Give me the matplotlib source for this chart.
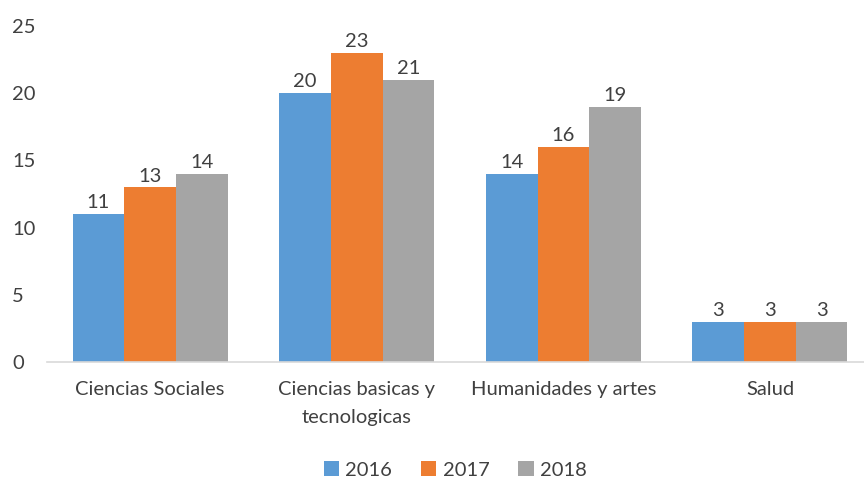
import numpy as np
import matplotlib.pyplot as plt

plt.rcParams['font.family'] = ['Lato', 'DejaVu Sans']

# Data
categorias = ['Ciencias Sociales', 'Ciencias basicas y\ntecnologicas',
              'Humanidades y artes', 'Salud']
anios = ['2016', '2017', '2018']
v2016 = [11, 20, 14, 3]
v2017 = [13, 23, 16, 3]
v2018 = [14, 21, 19, 3]
colores = ['#5B9BD5', '#ED7D31', '#A5A5A5']

fig = plt.figure(figsize=(8.64, 4.8), dpi=100)
ax = fig.add_axes([46.75 / 864, 1 - 362 / 480, 1 - 46.75 / 864, 336 / 480])

x = np.arange(len(categorias))
w = 0.25
for i, (vals, lab) in enumerate(zip([v2016, v2017, v2018], anios)):
    bars = ax.bar(x + (i - 1) * w, vals, w, color=colores[i], label=lab)
    ax.bar_label(bars, padding=2, fontsize=14.5, color='#404040')

ax.set_xlim(-0.5, 3.455)
ax.set_ylim(0, 25)
ax.set_yticks([0, 5, 10, 15, 20, 25])
ax.set_xticks(x)
ax.set_xticklabels(categorias, fontsize=14.5, color='#404040', linespacing=1.75)
ax.tick_params(axis='y', length=0, labelsize=14.5, labelcolor='#404040', pad=25)
for t in ax.get_yticklabels():
    t.set_horizontalalignment('left')
ax.tick_params(axis='x', length=0, pad=14)

for s in ['top', 'right', 'left']:
    ax.spines[s].set_visible(False)
ax.spines['bottom'].set_color('#D9D9D9')
ax.spines['bottom'].set_linewidth(1.2)

fig.legend(loc='lower center', bbox_to_anchor=(0.527, -0.035), ncol=3, frameon=False,
           fontsize=14.5, handlelength=0.75, handleheight=0.75, handletextpad=0.3,
           columnspacing=1.45, labelcolor='#404040')

fig.savefig('out.png', dpi=100)
